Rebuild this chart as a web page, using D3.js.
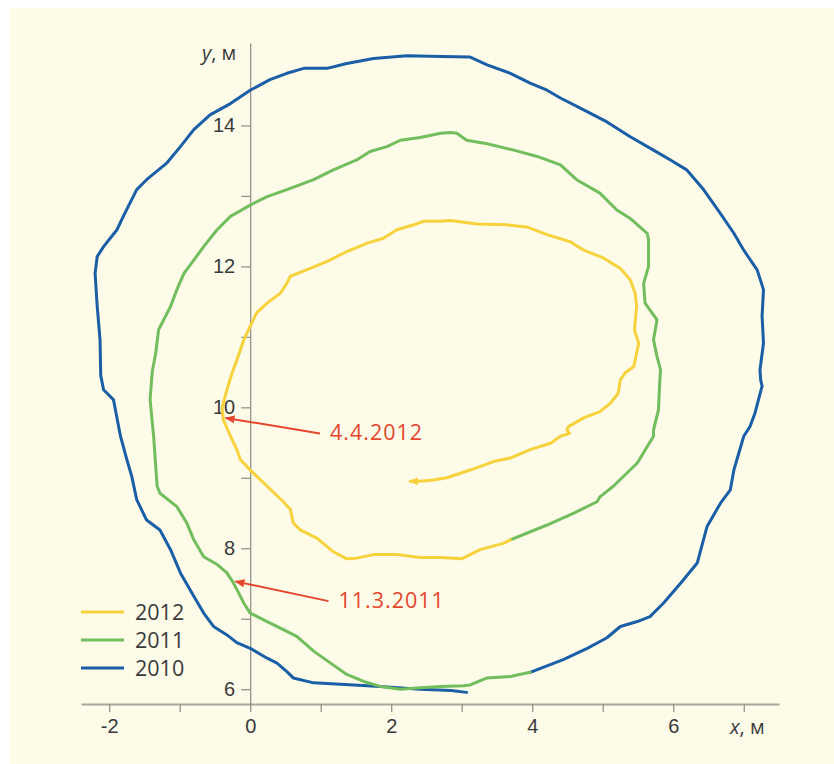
<!DOCTYPE html>
<html>
<head>
<meta charset="utf-8">
<script src="https://cdn.jsdelivr.net/npm/d3@7"></script>
<style>
  body { margin: 0; background: #fff; }
  svg { display: block; font-family: "Open Sans", "Noto Sans", sans-serif; }
</style>
</head>
<body>
<div id="chart"></div>
<script>
// trajectory of the point, [x, y] in metres
var traj2010 = [[3.07,5.955],[2.85,5.98],[2.41,6.0],[1.84,6.04],[0.90,6.09],[0.61,6.16],[0.52,6.25],[0.38,6.37],[0.24,6.44],[0,6.58],[-0.19,6.66],[-0.33,6.77],[-0.52,6.89],[-0.66,7.08],[-0.80,7.32],[-0.99,7.65],[-1.13,7.98],[-1.28,8.26],[-1.47,8.40],[-1.61,8.69],[-1.68,9.02],[-1.75,9.26],[-1.84,9.59],[-1.94,10.11],[-2.08,10.25],[-2.12,10.45],[-2.13,10.96],[-2.17,11.43],[-2.20,11.90],[-2.17,12.14],[-2.08,12.28],[-1.89,12.52],[-1.80,12.71],[-1.61,13.09],[-1.47,13.23],[-1.18,13.47],[-0.99,13.70],[-0.80,13.94],[-0.57,14.15],[-0.28,14.31],[0,14.50],[0.28,14.65],[0.52,14.74],[0.76,14.81],[1.09,14.81],[1.37,14.88],[1.75,14.95],[2.22,14.99],[2.70,14.98],[3.12,14.97],[3.36,14.86],[3.69,14.74],[3.97,14.60],[4.21,14.50],[4.40,14.39],[4.73,14.22],[5.06,14.05],[5.39,13.84],[5.72,13.65],[5.96,13.51],[6.19,13.37],[6.43,13.09],[6.67,12.75],[6.86,12.47],[7.00,12.23],[7.19,11.95],[7.28,11.67],[7.26,11.29],[7.28,10.91],[7.23,10.53],[7.24,10.39],[7.26,10.30],[7.16,9.92],[7.09,9.73],[7.00,9.59],[6.86,9.11],[6.81,8.83],[6.67,8.64],[6.48,8.31],[6.34,7.79],[6.11,7.51],[5.86,7.22],[5.67,7.03],[5.49,6.96],[5.25,6.89],[5.06,6.73],[4.78,6.58],[4.44,6.42],[3.97,6.24]];
var traj2011 = [[3.97,6.24],[3.69,6.18],[3.36,6.16],[3.12,6.06],[3.03,6.05],[2.70,6.04],[2.41,6.02],[2.13,6.00],[1.84,6.04],[1.61,6.11],[1.37,6.21],[1.14,6.37],[0.90,6.54],[0.66,6.75],[0.52,6.82],[0.24,6.96],[0,7.08],[-0.09,7.22],[-0.14,7.32],[-0.24,7.51],[-0.33,7.65],[-0.47,7.77],[-0.66,7.88],[-0.80,8.12],[-0.90,8.36],[-1.04,8.59],[-1.28,8.78],[-1.32,8.88],[-1.34,9.16],[-1.37,9.59],[-1.42,10.11],[-1.39,10.50],[-1.34,10.77],[-1.30,11.10],[-1.13,11.43],[-1.04,11.67],[-0.94,11.90],[-0.80,12.09],[-0.66,12.28],[-0.47,12.52],[-0.28,12.71],[0,12.87],[0.24,12.99],[0.52,13.09],[0.90,13.23],[1.18,13.37],[1.51,13.51],[1.70,13.63],[1.94,13.70],[2.13,13.79],[2.41,13.83],[2.70,13.89],[2.84,13.90],[2.93,13.89],[3.07,13.79],[3.36,13.74],[3.74,13.65],[4.07,13.56],[4.40,13.44],[4.63,13.23],[4.96,13.04],[5.20,12.80],[5.39,12.68],[5.63,12.47],[5.65,12.38],[5.65,12.00],[5.58,11.76],[5.60,11.48],[5.77,11.24],[5.72,10.96],[5.77,10.72],[5.82,10.53],[5.81,10.39],[5.79,9.96],[5.72,9.68],[5.72,9.59],[5.49,9.21],[5.15,8.88],[4.96,8.73],[4.92,8.66],[4.59,8.50],[4.21,8.33],[3.69,8.12]];
var traj2012 = [[3.69,8.12],[3.59,8.07],[3.26,7.98],[3.00,7.85],[2.70,7.87],[2.41,7.87],[2.08,7.91],[1.75,7.91],[1.51,7.86],[1.37,7.85],[1.18,7.95],[0.95,8.14],[0.71,8.26],[0.61,8.36],[0.57,8.55],[0.47,8.66],[0.24,8.88],[0,9.11],[-0.14,9.26],[-0.19,9.40],[-0.28,9.59],[-0.38,9.82],[-0.40,9.99],[-0.33,10.25],[-0.26,10.48],[-0.19,10.67],[-0.09,10.96],[0,11.15],[0.09,11.34],[0.24,11.48],[0.43,11.62],[0.52,11.76],[0.57,11.86],[0.80,11.95],[1.09,12.07],[1.37,12.21],[1.66,12.33],[1.89,12.40],[2.08,12.52],[2.32,12.59],[2.46,12.64],[2.70,12.64],[2.84,12.65],[3.22,12.60],[3.64,12.59],[3.92,12.56],[4.21,12.45],[4.54,12.35],[4.73,12.23],[5.01,12.12],[5.25,11.97],[5.39,11.81],[5.46,11.62],[5.48,11.43],[5.45,11.10],[5.51,10.91],[5.46,10.67],[5.44,10.58],[5.32,10.49],[5.25,10.39],[5.22,10.20],[5.11,10.06],[4.96,9.94],[4.73,9.85],[4.52,9.73],[4.49,9.68],[4.53,9.63],[4.40,9.59],[4.26,9.49],[3.97,9.40],[3.69,9.28],[3.45,9.23],[3.12,9.11],[2.79,9.00],[2.60,8.97],[2.41,8.95],[2.27,8.95]];

var years = ["2012", "2011", "2010"];
var colors = ["#f8d23c", "#72bd5c", "#1a5ea6"];
var xTicks = [-2, -1, 0, 1, 2, 3, 4, 5, 6, 7];
var yTicks = [6, 7, 8, 9, 10, 11, 12, 13, 14];
// dates marked on the path: arrow tip and tail, in metres
var marks = [
  {label: "4.4.2012", tip: [-0.35, 9.85], tail: [0.99, 9.63]},
  {label: "11.3.2011", tip: [-0.21, 7.53], tail: [1.11, 7.25]}
];

var width = 834, height = 764;

var svg = d3.select("#chart").append("svg")
  .attr("width", width)
  .attr("height", height);

svg.append("rect")
  .attr("x", 10).attr("y", 8)
  .attr("width", width - 10).attr("height", height - 8)
  .attr("fill", "#fefbe9");

var x = d3.scaleLinear().domain([-2.4, 7.5]).range([81, 779]);
var y = d3.scaleLinear().domain([5.79, 15.17]).range([704, 43]);

var defs = svg.append("defs");
defs.append("marker")
  .attr("id", "redhead")
  .attr("viewBox", "0 0 10 10")
  .attr("refX", 9).attr("refY", 5)
  .attr("markerWidth", 5).attr("markerHeight", 5)
  .attr("orient", "auto")
  .append("path").attr("d", "M0,1L10,5L0,9z").attr("fill", "#e6462e");
defs.append("marker")
  .attr("id", "yellowhead")
  .attr("viewBox", "0 0 10 10")
  .attr("refX", 8).attr("refY", 5)
  .attr("markerWidth", 3.2).attr("markerHeight", 3.2)
  .attr("orient", "auto")
  .append("path").attr("d", "M0,1L10,5L0,9z").attr("fill", "#f8d23c");

//x axis
var xAxis = svg.append("g")
  .attr("transform", "translate(0," + y(5.79) + ")")
  .call(d3.axisBottom(x)
    .tickValues(xTicks)
    .tickSize(8)
    .tickSizeOuter(0)
    .tickPadding(7)
    .tickFormat(function(d) { return d % 2 === 0 ? String(d) : ""; }));
xAxis.select(".domain").attr("stroke", "#a9a79d").attr("stroke-width", 2);
xAxis.selectAll(".tick line").attr("stroke", "#8d8b83").attr("stroke-width", 1.2);
xAxis.selectAll(".tick text").attr("fill", "#3a3a3a").style("font-size", "20px");

//y axis
var yAxis = svg.append("g")
  .attr("transform", "translate(" + x(0) + ",0)")
  .call(d3.axisLeft(y)
    .tickValues(yTicks)
    .tickSize(9)
    .tickSizeOuter(0)
    .tickPadding(6)
    .tickFormat(function(d) { return d % 2 === 0 ? String(d) : ""; }));
yAxis.select(".domain").attr("stroke", "#8d8b83").attr("stroke-width", 1.2);
yAxis.selectAll(".tick line").attr("stroke", "#8d8b83").attr("stroke-width", 1.2);
yAxis.selectAll(".tick text").attr("fill", "#3a3a3a").style("font-size", "20px");

svg.append("text")
  .attr("x", x(0) - 14).attr("y", 60)
  .attr("text-anchor", "end")
  .attr("fill", "#3a3a3a")
  .style("font-size", "20px")
  .html('<tspan font-style="italic">y</tspan>, м');
svg.append("text")
  .attr("x", 730).attr("y", 734)
  .attr("fill", "#3a3a3a")
  .style("font-size", "20px")
  .html('<tspan font-style="italic">x</tspan>, м');

var line = d3.line()
  .x(function(d) { return x(d[0]); })
  .y(function(d) { return y(d[1]); });

var series = [traj2012, traj2011, traj2010];
// draw oldest first so newer years sit on top
[2, 1, 0].forEach(function(i) {
  svg.append("path")
    .datum(series[i])
    .attr("fill", "none")
    .attr("stroke", colors[i])
    .attr("stroke-width", 3)
    .attr("stroke-linejoin", "round")
    .attr("stroke-linecap", "round")
    .attr("marker-end", i === 0 ? "url(#yellowhead)" : null)
    .attr("d", line);
});

// date arrows
marks.forEach(function(m) {
  svg.append("line")
    .attr("x1", x(m.tail[0])).attr("y1", y(m.tail[1]))
    .attr("x2", x(m.tip[0])).attr("y2", y(m.tip[1]))
    .attr("stroke", "#e6462e")
    .attr("stroke-width", 2)
    .attr("marker-end", "url(#redhead)");
  svg.append("text")
    .attr("x", x(m.tail[0]) + 10)
    .attr("y", y(m.tail[1]) + 7)
    .attr("fill", "#e4472d")
    .style("font-size", "21.5px")
    .style("letter-spacing", "1px")
    .text(m.label);
});

// legend
var legend = svg.append("g");
years.forEach(function(yr, i) {
  var ly = 612 + i * 28;
  legend.append("line")
    .attr("x1", 81).attr("x2", 124)
    .attr("y1", ly).attr("y2", ly)
    .attr("stroke", colors[i])
    .attr("stroke-width", 3);
  legend.append("text")
    .attr("x", 135).attr("y", ly + 7.5)
    .attr("fill", "#3a3a3a")
    .style("font-size", "21.5px")
    .text(yr);
});
</script>
</body>
</html>
